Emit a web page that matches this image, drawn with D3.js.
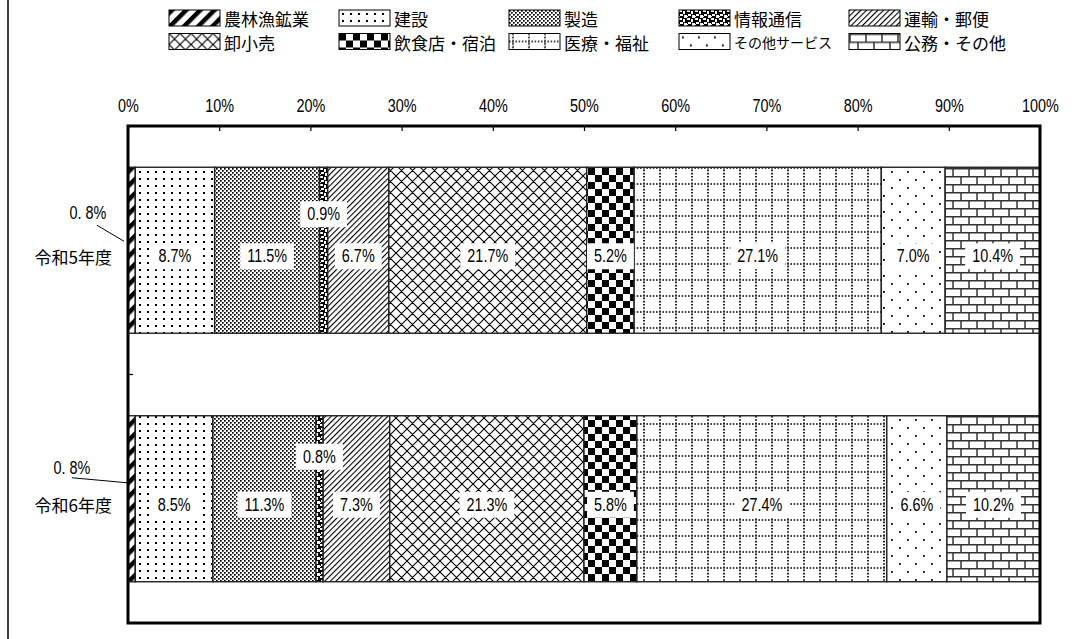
<!DOCTYPE html>
<html>
<head>
<meta charset="utf-8">
<script src="https://cdn.jsdelivr.net/npm/d3@7"></script>
<style>
body { margin: 0; background: #fff; }
svg { display: block; }
.num { font-family: "Liberation Sans", Arial, sans-serif; font-size: 18px; fill: #000; }
.jp { font-family: "Noto Sans CJK JP", sans-serif; fill: #000; }
</style>
</head>
<body>
<script>
// データ
const categories = ["令和5年度", "令和6年度"];
const sectors = ["農林漁鉱業", "建設", "製造", "情報通信", "運輸・郵便", "卸小売", "飲食店・宿泊", "医療・福祉", "その他サービス", "公務・その他"];
const r5Values = [0.8, 8.7, 11.5, 0.9, 6.7, 21.7, 5.2, 27.1, 7.0, 10.4];
const r6Values = [0.8, 8.5, 11.3, 0.8, 7.3, 21.3, 5.8, 27.4, 6.6, 10.2];
const tickValues = [0, 10, 20, 30, 40, 50, 60, 70, 80, 90, 100];

const W = 1085, H = 639;
const svg = d3.select("body").append("svg")
	.attr("width", W)
	.attr("height", H);

const defs = svg.append("defs");

// 数字は細長い字形に寄せる
function narrow(sel) {
	sel.each(function() {
		const w = this.getComputedTextLength();
		d3.select(this).attr("textLength", w * 0.8).attr("lengthAdjust", "spacingAndGlyphs");
	});
}

// 模様
function pat(id, w, h, tr) {
	const p = defs.append("pattern")
		.attr("id", id)
		.attr("patternUnits", "userSpaceOnUse")
		.attr("width", w)
		.attr("height", h);
	if (tr) p.attr("patternTransform", tr);
	p.append("rect").attr("width", w).attr("height", h).attr("fill", "#fff");
	return p;
}

// 農林漁鉱業: 太い斜線
pat("p0", 10, 10, "rotate(45)")
	.append("rect").attr("x", 0).attr("y", 0).attr("width", 4.5).attr("height", 10).attr("fill", "#000");

// 建設: 点
let p = pat("p1", 8, 7);
p.append("rect").attr("x", 3).attr("y", 3).attr("width", 2).attr("height", 2).attr("fill", "#000");

// 製造: 細かい点
p = pat("p2", 4, 4);
p.append("rect").attr("x", 0).attr("y", 0).attr("width", 1.7).attr("height", 1.7).attr("fill", "#000");
p.append("rect").attr("x", 2).attr("y", 2).attr("width", 1.7).attr("height", 1.7).attr("fill", "#000");

// 情報通信
p = pat("p3", 8, 8);
p.append("rect").attr("width", 8).attr("height", 8).attr("fill", "#000");
[[0, 0, 3, 2], [4, 1, 2, 3], [1, 4, 3, 2], [5, 5, 3, 3], [0, 6, 1, 1]].forEach((r) => {
	p.append("rect").attr("x", r[0]).attr("y", r[1]).attr("width", r[2]).attr("height", r[3]).attr("fill", "#fff");
});

// 運輸・郵便: 細い斜線
pat("p4", 4, 4, "rotate(45)")
	.append("rect").attr("x", 0).attr("y", 0).attr("width", 1.1).attr("height", 4).attr("fill", "#000");

// 卸小売: ひし形
p = pat("p5", 11, 11);
p.append("path").attr("d", "M0,0L11,11M11,0L0,11M-1,10L1,12M10,-1L12,1M10,12L12,10M-1,1L1,-1")
	.attr("stroke", "#000").attr("stroke-width", 1.1);

// 飲食店・宿泊: 市松
p = pat("p6", 14, 14);
p.append("rect").attr("x", 0).attr("y", 0).attr("width", 7).attr("height", 7).attr("fill", "#000");
p.append("rect").attr("x", 7).attr("y", 7).attr("width", 7).attr("height", 7).attr("fill", "#000");

// 医療・福祉: 点線の格子
p = pat("p7", 16, 16);
p.append("path").attr("d", "M0,8H16M4,0V16")
	.attr("stroke", "#000").attr("stroke-width", 1.7).attr("stroke-dasharray", "1.6,1.6");

// その他サービス: まばらな点
p = pat("p8", 16, 16);
p.append("rect").attr("x", 3).attr("y", 3).attr("width", 1.8).attr("height", 1.8).attr("fill", "#000");
p.append("rect").attr("x", 11).attr("y", 11).attr("width", 1.8).attr("height", 1.8).attr("fill", "#000");

// 公務・その他: れんが
p = pat("p9", 16, 16);
p.append("path").attr("d", "M0,0.75H16M0,8.75H16M1,0V8M9,8V16")
	.attr("stroke", "#333").attr("stroke-width", 1.5);

const fills = sectors.map((s, i) => "url(#p" + i + ")");

// 凡例
const legend = svg.append("g");
const legendItems = legend.selectAll("g")
	.data(sectors)
	.enter()
	.append("g")
	.attr("transform", (d, i) => "translate(" + (169 + (i % 5) * 170) + "," + (10 + Math.floor(i / 5) * 23.5) + ")");

legendItems.append("rect")
	.attr("width", 51)
	.attr("height", 16)
	.attr("fill", (d, i) => fills[i])
	.attr("stroke", "#000")
	.attr("stroke-width", 1);

legendItems.append("text")
	.attr("class", "jp")
	.attr("x", 55)
	.attr("y", 8.5)
	.attr("dominant-baseline", "central")
	.style("font-size", (d) => d == "その他サービス" ? "14px" : "17px")
	.text((d) => d);

// 左の枠線
svg.append("line")
	.attr("x1", 8).attr("x2", 8)
	.attr("y1", 0).attr("y2", H)
	.attr("stroke", "#000")
	.attr("stroke-width", 1.5);

const x = d3.scaleLinear()
	.domain([0, 100])
	.range([128, 1040]);

const y = d3.scaleBand()
	.domain(categories)
	.range([126, 623])
	.paddingInner(0.332)
	.paddingOuter(0.166);

// 目盛り
const xAxis = svg.append("g")
	.attr("transform", "translate(0,126)")
	.call(d3.axisTop(x).tickValues(tickValues).tickSize(-5).tickPadding(14).tickFormat((d) => d + "%"));
xAxis.select(".domain").remove();
xAxis.selectAll("line").attr("stroke", "#000").attr("stroke-width", 1.2);
xAxis.selectAll("text").attr("class", "num").attr("font-family", null).attr("font-size", null).call(narrow);

const bars = [r5Values, r6Values];

bars.forEach((vals, ci) => {
	const cat = categories[ci];
	const g = svg.append("g");
	const starts = [];
	let acc = 0;
	vals.forEach((v) => { starts.push(acc); acc += v; });

	g.selectAll("rect")
		.data(vals)
		.enter()
		.append("rect")
		.attr("x", (d, i) => x(starts[i]))
		.attr("y", y(cat))
		.attr("width", (d, i) => x(starts[i] + d) - x(starts[i]))
		.attr("height", y.bandwidth())
		.attr("fill", (d, i) => fills[i])
		.attr("stroke", "#222")
		.attr("stroke-width", 1.4);
});

// 外枠
svg.append("rect")
	.attr("x", x(0))
	.attr("y", 126)
	.attr("width", x(100) - x(0))
	.attr("height", 623 - 126)
	.attr("fill", "none")
	.attr("stroke", "#000")
	.attr("stroke-width", 3);

// 縦軸の目盛り (区切り)
svg.append("line")
	.attr("x1", x(0)).attr("x2", x(0) + 5)
	.attr("y1", y(categories[1]) - y.step() * y.paddingInner() / 2)
	.attr("y2", y(categories[1]) - y.step() * y.paddingInner() / 2)
	.attr("stroke", "#000").attr("stroke-width", 1.2);

// ラベル
const raiseOffset = [-36, -42];
const leader = [
	{ tx: -40, ty: -37, x1: -31, y1: -25, x2: -4, y2: -9 },
	{ tx: -56, ty: -31, x1: -56, y1: -21, x2: -1, y2: -16 }
];

bars.forEach((vals, ci) => {
	const cat = categories[ci];
	const cy = y(cat) + y.bandwidth() / 2;
	const g = svg.append("g");
	let acc = 0;
	vals.forEach((v, i) => {
		const cx = x(acc + v / 2);
		acc += v;
		if (i == 0) {
			const L = leader[ci];
			g.append("text")
				.attr("class", "num")
				.attr("x", x(0) + L.tx)
				.attr("y", cy + L.ty)
				.attr("text-anchor", "middle")
				.attr("dominant-baseline", "central")
				.text(v.toFixed(1).replace(".", ". ") + "%")
				.call(narrow);
			g.append("line")
				.attr("x1", x(0) + L.x1).attr("y1", cy + L.y1)
				.attr("x2", x(0) + L.x2).attr("y2", cy + L.y2)
				.attr("stroke", "#000").attr("stroke-width", 1);
			return;
		}
		const ly = v < 2 ? cy + raiseOffset[ci] : cy + 6;
		const t = g.append("text")
			.attr("class", "num")
			.attr("x", cx)
			.attr("y", ly)
			.attr("text-anchor", "middle")
			.attr("dominant-baseline", "central")
			.text(v.toFixed(1) + "%")
			.call(narrow);
		const tw = t.node().getComputedTextLength();
		g.insert("rect", "text")
			.attr("x", cx - tw / 2 - 7)
			.attr("y", ly - 13)
			.attr("width", tw + 14)
			.attr("height", 26)
			.attr("fill", "#fff");
	});

	svg.append("text")
		.attr("class", "jp")
		.attr("x", 112)
		.attr("y", cy + 6)
		.attr("text-anchor", "end")
		.attr("dominant-baseline", "central")
		.style("font-size", "17px")
		.text(cat);
});
</script>
</body>
</html>
